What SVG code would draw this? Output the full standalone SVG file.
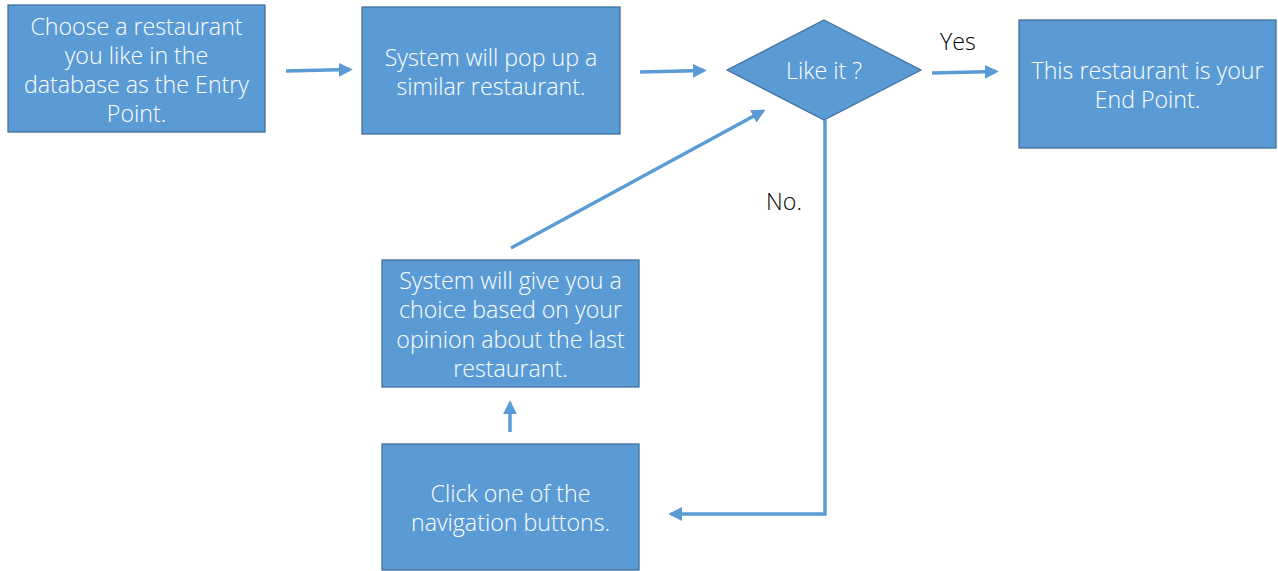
<svg xmlns="http://www.w3.org/2000/svg" width="1278" height="571" viewBox="0 0 1278 571">
<defs>
<marker id="ah" markerWidth="4" markerHeight="4" refX="3.2" refY="2" orient="auto" markerUnits="strokeWidth">
<path d="M0,0 L4,2 L0,4 Z" fill="#5B9BD5"/>
</marker>
<style>
.box{fill:#5B9BD5;stroke:#41719C;stroke-width:1.3}
.t{font-family:"Open Sans","Noto Sans","Liberation Sans",sans-serif;font-weight:300;font-size:23.2px;fill:#FFFFFF;text-anchor:middle}
.lbl{font-family:"Open Sans","Noto Sans","Liberation Sans",sans-serif;font-weight:300;font-size:23.2px;fill:#000000;text-anchor:middle}
.c{stroke:#5B9BD5;stroke-width:3.5;fill:none;marker-end:url(#ah)}
</style>
</defs>
<rect width="1278" height="571" fill="#FFFFFF"/>
<g id="connectors">
<line class="c" x1="286" y1="71" x2="350" y2="69.5"/>
<line class="c" x1="640" y1="72" x2="704" y2="70.5"/>
<line class="c" x1="932" y1="73" x2="996" y2="71.5"/>
<line class="c" x1="511" y1="248" x2="763" y2="111"/>
<line class="c" x1="510" y1="432" x2="510" y2="403"/>
<polyline class="c" points="825,120 825,514 671,514"/>
</g>
<g id="n1">
<rect class="box" x="8" y="5" width="257" height="127"/>
<text class="t" x="136.5" y="35">Choose a restaurant</text>
<text class="t" x="136.5" y="64">you like in the</text>
<text class="t" x="136.5" y="93">database as the Entry</text>
<text class="t" x="136.5" y="122">Point.</text>
</g>
<g id="n2">
<rect class="box" x="362" y="7" width="258" height="127"/>
<text class="t" x="491" y="66">System will pop up a</text>
<text class="t" x="491" y="95">similar restaurant.</text>
</g>
<g id="n3">
<polygon class="box" points="824,20 921,70 824,120 727,70"/>
<text class="t" x="824" y="79">Like it ?</text>
</g>
<g id="n4">
<rect class="box" x="1019" y="20" width="257" height="128"/>
<text class="t" x="1147.5" y="79">This restaurant is your</text>
<text class="t" x="1147.5" y="108">End Point.</text>
</g>
<g id="n5">
<rect class="box" x="382" y="260" width="257" height="127"/>
<text class="t" x="510.5" y="289">System will give you a</text>
<text class="t" x="510.5" y="318">choice based on your</text>
<text class="t" x="510.5" y="348">opinion about the last</text>
<text class="t" x="510.5" y="377">restaurant.</text>
</g>
<g id="n6">
<rect class="box" x="382" y="444" width="257" height="126"/>
<text class="t" x="510.5" y="502">Click one of the</text>
<text class="t" x="510.5" y="531">navigation buttons.</text>
</g>
<g id="labels">
<text class="lbl" x="958" y="50">Yes</text>
<text class="lbl" x="784" y="210">No.</text>
</g>
</svg>
